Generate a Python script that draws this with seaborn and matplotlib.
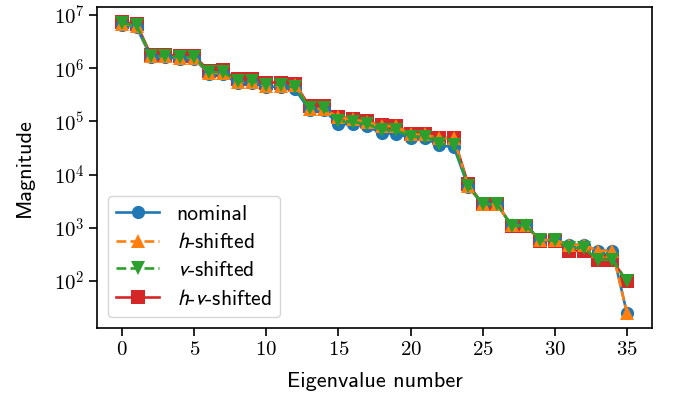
import numpy as np
import pandas as pd
import matplotlib
matplotlib.use("Agg")
import matplotlib.pyplot as plt
import seaborn as sns
from matplotlib.ticker import FixedLocator, FuncFormatter, NullLocator

idx = list(range(36))

nominal = [6.6e6, 5.9e6, 1.62e6, 1.62e6, 1.51e6, 1.51e6, 7.9e5, 7.8e5, 5.2e5, 5.2e5,
           4.5e5, 4.5e5, 4.0e5, 1.62e5, 1.62e5, 8.9e4, 8.9e4, 8.1e4, 6.0e4, 5.9e4,
           4.9e4, 4.9e4, 3.55e4, 3.3e4, 5.9e3, 2.75e3, 2.75e3, 1.12e3, 1.12e3, 590,
           590, 480, 480, 370, 370, 25]
h_shifted = [6.9e6, 6.2e6, 1.68e6, 1.68e6, 1.58e6, 1.58e6, 8.2e5, 8.1e5, 5.5e5, 5.5e5,
             4.7e5, 4.7e5, 4.9e5, 1.72e5, 1.72e5, 1.2e5, 1.09e5, 9.8e4, 8.3e4, 8.1e4,
             5.7e4, 5.7e4, 4.8e4, 4.8e4, 6.0e3, 2.75e3, 2.75e3, 1.12e3, 1.12e3, 590,
             590, 480, 480, 370, 370, 25]
v_shifted = [7.0e6, 6.4e6, 1.7e6, 1.7e6, 1.62e6, 1.62e6, 8.4e5, 8.5e5, 5.7e5, 5.7e5,
             4.9e5, 4.9e5, 4.4e5, 1.78e5, 1.78e5, 1.0e5, 9.8e4, 8.9e4, 7.0e4, 6.8e4,
             5.2e4, 5.2e4, 3.8e4, 3.6e4, 6.2e3, 2.8e3, 2.8e3, 1.1e3, 1.1e3, 580,
             580, 420, 420, 250, 250, 98]
hv_shifted = [7.4e6, 6.8e6, 1.78e6, 1.78e6, 1.74e6, 1.74e6, 8.9e5, 9.1e5, 6.2e5, 6.2e5,
              5.4e5, 5.4e5, 5.0e5, 1.95e5, 1.95e5, 1.23e5, 1.12e5, 1.0e5, 8.5e4, 8.3e4,
              5.8e4, 5.8e4, 4.9e4, 4.9e4, 6.6e3, 2.8e3, 2.8e3, 1.1e3, 1.1e3, 570,
              570, 370, 370, 245, 245, 98]

series_names = ["nominal", "h-shifted", "v-shifted", "h-v-shifted"]
legend_labels = ["nominal", r"$\mathit{h}$-shifted", r"$\mathit{v}$-shifted",
                 r"$\mathit{h}$-$\mathit{v}$-shifted"]
x_ticks = [0, 5, 10, 15, 20, 25, 30, 35]
y_ticks = [1e2, 1e3, 1e4, 1e5, 1e6, 1e7]

df = pd.DataFrame({
    "Eigenvalue number": idx * 4,
    "Magnitude": nominal + h_shifted + v_shifted + hv_shifted,
    "series": sum([[n] * 36 for n in series_names], []),
})

plt.rcParams["font.family"] = ["cmss10", "DejaVu Sans"]
plt.rcParams["mathtext.fontset"] = "cm"
plt.rcParams["axes.unicode_minus"] = False

fig, ax = plt.subplots(figsize=(6.73, 3.98), dpi=100)
fig.subplots_adjust(left=0.144, right=0.969, top=0.982, bottom=0.176)

palette = dict(zip(series_names, sns.color_palette("tab10", 4)))
markers = {"nominal": "o", "h-shifted": "^", "v-shifted": "v", "h-v-shifted": "s"}
dashes = {"nominal": "", "h-shifted": (3.7, 1.6), "v-shifted": (3.7, 1.6), "h-v-shifted": ""}

sns.lineplot(data=df, x="Eigenvalue number", y="Magnitude", hue="series",
             style="series", hue_order=series_names, style_order=series_names,
             palette=palette, markers=markers, dashes=dashes, markersize=9.5,
             linewidth=1.9, markeredgewidth=0, ax=ax, legend=False)

zorders = [2.2, 2.3, 2.4, 2.1]
for line, z in zip(ax.lines, zorders):
    line.set_zorder(z)

ax.set_yscale("log")
ax.set_ylim(10 ** 1.117, 10 ** 7.15)
ax.set_xlim(-1.75, 36.75)
ax.xaxis.set_major_locator(FixedLocator(x_ticks))
ax.xaxis.set_major_formatter(FuncFormatter(lambda v, p: f"${int(v)}$"))
ax.yaxis.set_major_locator(FixedLocator(y_ticks))
ax.yaxis.set_major_formatter(FuncFormatter(lambda v, p: r"$10^{%d}$" % round(np.log10(v))))
ax.yaxis.set_minor_locator(NullLocator())
ax.tick_params(labelsize=15, length=5.5, width=1.2)
for s in ax.spines.values():
    s.set_linewidth(1.2)

ax.set_xlabel("Eigenvalue number", fontsize=16, labelpad=9)
ax.set_ylabel("Magnitude", fontsize=16, labelpad=14)

handles = ax.lines[:4]
leg = ax.legend(handles, legend_labels, loc="lower left", fontsize=15.5,
                handlelength=2.0, borderaxespad=0.5, labelspacing=0.4)
for t in leg.get_texts():
    t.set_math_fontfamily("stixsans")

fig.savefig("out.png", dpi=100)
